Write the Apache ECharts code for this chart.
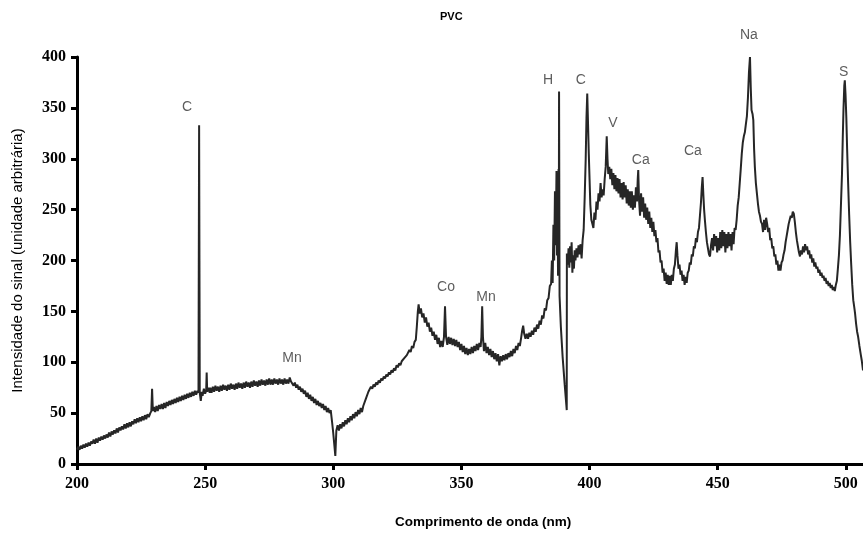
<!DOCTYPE html>
<html>
<head>
<meta charset="utf-8">
<script src="https://cdn.jsdelivr.net/npm/echarts@6/dist/echarts.min.js"></script>
<style>
html,body{margin:0;padding:0;background:#fff;}
#chart{width:863px;height:533px;}
</style>
</head>
<body>
<div id="chart"></div>
<script>
// Spectrum segments: [wavelength (nm), intensity (a.u.)]
var seg200to301 = [
[200,14],[200.5,17],[201,14],[201.5,18],[202,15],[202.5,19],[203,16],[203.5,20],[204,17],[204.5,21],[205,18],[205.5,22],[206,20],[206.5,24],[207,20],[207.5,25],[208,21],[208.5,26],[209,23],[209.5,27],[210,24],[210.5,28],[211,25],[211.5,29],[212,26],[212.5,31],[213,27],[213.5,32],[214,29],[214.5,33],[215,30],[215.5,35],[216,31],[216.5,36],[217,33],[217.5,37],[218,34],[218.5,39],[219,35],[219.5,40],[220,36],[220.5,41],[221,37],[221.5,42],[222,39],[222.5,44],[223,40],[223.5,45],[224,41],[224.5,46],[225,42],[225.5,47],[226,43],[226.5,48],[227,44],[227.5,49],[228,46],[228.6,50],[229,52],[229.3,74],[229.6,52],[230,56],[230.5,51],[231,57],[231.5,52],[232,58],[232.5,54],[233,59],[233.5,54],[234,60],[234.5,55],[235,61],[235.5,57],[236,62],[236.5,58],[237,63],[237.5,59],[238,64],[238.5,60],[239,65],[239.5,61],[240,66],[240.5,62],[241,67],[241.5,63],[242,68],[242.5,64],[243,69],[243.5,65],[244,70],[244.5,66],[245,71],[245.5,67],[246,72],[246.5,68],[247,72],[247.4,70],[247.65,333],[247.9,70],[248.3,62],[248.7,71],[249,67],[249.5,74],[250,69],[250.4,72],[250.6,90],[250.8,71],[251.3,75],[251.8,70],
[252,75],[252.5,70],[253,76],[253.5,71],[254,77],[254.5,72],[255,76],[255.5,71],[256,77],[256.5,72],[257,78],[257.5,73],[258,77],[258.5,72],[259,78],[259.5,73],[260,79],[260.5,74],[261,78],[261.5,73],[262,79],[262.5,74],[263,80],[263.5,75],[264,79],[264.5,74],[265,80],[265.5,75],[266,81],[266.5,76],[267,80],[267.5,75],[268,81],[268.5,76],[269,82],[269.5,77],[270,81],[270.5,76],[271,82],[271.5,77],[272,83],[272.5,78],[273,82],[273.5,77],[274,83],[274.5,78],[275,84],[275.5,78],[276,83],[276.5,78],[277,84],[277.5,79],[278,83],[278.5,78],[279,84],[279.5,79],[280,83],[280.5,78],[281,84],[281.5,79],[282,83],[282.5,79],[283,85],[283.5,81],
[284,80],[284.5,77],[285,80],[285.5,75],[286,78],[286.5,73],[287,76],[287.5,71],[288,74],[288.5,69],[289,72],[289.5,66],[290,70],[290.5,64],[291,68],[291.5,62],[292,66],[292.5,60],[293,64],[293.5,58],[294,62],[294.5,57],[295,60],[295.5,55],[296,59],[296.5,53],[297,57],[297.5,51],[298,55],[298.5,50],[299,53],[299.5,42],[300,30],[300.8,8]
];
var seg301to391 = [
[301.2,33],[301.7,38],[302.2,33],[302.7,39],[303.2,35],[303.7,41],[304.2,37],[304.7,43],[305.2,39],[305.7,45],[306.2,41],[306.7,47],[307.2,43],[307.7,49],[308.2,45],[308.7,51],[309.2,47],[309.7,53],[310.2,49],[310.7,55],[311.2,51],[311.7,57],[312.2,58],[312.7,64],[313.2,65],[313.7,71],[314.2,71],[314.7,76],[315.2,74],[315.7,78],[316.2,76],[316.7,80],[317.2,78],[317.7,82],[318.2,80],[318.7,84],[319.2,82],[319.7,86],[320.2,84],[320.7,88],[321.2,86],[321.7,90],[322.2,88],[322.7,92],[323.2,90],[323.7,94],[324.2,92],[324.7,97],[325.2,95],[325.7,99],[326.2,97],[326.7,101],[327.2,100],[327.7,104],[328.2,103],[328.7,107],[329.2,106],[329.7,112],[330.2,110],[330.7,116],[331.2,114],[331.7,120],[332.2,122],[332.6,135],[333.0,150],[333.3,157],[333.7,148],[334.2,153],[334.7,144],[335.2,148],[335.7,139],[336.2,144],[336.7,135],[337.2,139],[337.7,130],[338.2,134],[338.7,126],[339.2,130],[339.7,122],[340.2,127],[340.7,118],[341.2,124],[341.7,115],[342.2,121],[342.7,115],[343.2,125],[343.6,155],[344.0,125],[344.5,117],[345,125],[345.5,118],[346,124],[346.5,117],[347,123],[347.5,116],[348,122],[348.5,115],[349,120],[349.5,112],[350,118],[350.5,110],[351,116],[351.5,108],[352,114],[352.5,107],[353,113],[353.5,108],[354,115],[354.5,109],[355,116],[355.5,111],[356,118],[356.5,112],[357,119],[357.5,115],[357.8,125],[358.1,155],[358.4,125],[358.8,111],[359.3,119],[359.8,109],[360.3,115],[360.8,107],[361.3,113],[361.8,105],[362.3,111],[362.8,103],[363.3,109],[363.8,101],[364.3,108],[364.8,97],[365.3,106],[365.8,101],[366.3,107],[366.8,102],[367.3,108],[367.8,103],[368.3,109],[368.8,105],[369.3,111],[369.8,106],[370.3,113],[370.8,109],[371.3,116],[371.8,112],[372.3,119],[372.8,116],[373.3,124],[373.7,131],[374.1,136],[374.5,128],[375,123],[375.5,128],[376,123],[376.5,129],[377,125],[377.5,131],[378,127],[378.5,134],[379,130],[379.5,137],[380,133],[380.5,141],[381,137],[381.5,146],[382,143],[382.5,153],[383,151],[383.5,161],[384,163],[384.5,175],[385,177],[385.3,200],[385.6,178],[385.9,235],[386.2,200],[386.5,268],[386.8,215],[387.1,288],[387.3,205],[387.5,282],[387.7,185],[387.9,290],[388.0,200],[388.1,366],[388.3,165],[388.8,135],[389.5,105],[390.3,78],[391.1,53]
];
var seg391to447 = [
[391.15,207],[391.5,196],[391.8,212],[392.1,193],[392.4,214],[392.7,198],[393.0,218],[393.3,188],[393.6,205],[393.9,192],[394.2,210],[394.5,200],[394.9,212],[395.3,203],[395.7,215],[396.1,206],[396.5,216],[396.9,202],[397.3,220],[397.7,230],[398.1,262],[398.5,300],[398.8,340],[399.1,364],[399.4,335],[399.7,305],[400.0,280],[400.3,255],[400.7,240],[401.1,236],[401.5,232],[401.9,247],[402.3,240],[402.7,258],[403.1,250],[403.5,266],[403.9,258],[404.3,276],[404.7,262],[405.1,270],[405.5,264],[405.9,280],[406.3,292],[406.7,322],[407.0,300],[407.3,285],[407.7,292],[408.1,280],[408.5,290],[408.9,274],[409.3,286],[409.7,270],[410.1,284],[410.5,268],[410.9,281],[411.3,266],[411.7,280],[412.1,262],[412.5,276],[412.9,260],[413.3,277],[413.7,262],[414.1,274],[414.5,256],[414.9,270],[415.3,254],[415.7,268],[416.1,252],[416.5,268],[416.9,250],[417.3,264],[417.7,252],[418.1,272],[418.5,258],[418.8,280],[419.0,289],[419.3,260],[419.7,244],[420.1,266],[420.5,248],[420.9,262],[421.3,242],[421.7,256],[422.1,240],[422.5,252],[422.9,236],[423.3,248],[423.7,232],[424.1,242],[424.5,228],[424.9,238],[425.3,224],[425.7,230],[426.1,218],[426.5,222],[426.9,208],[427.3,210],[427.7,198],[428.1,200],[428.5,188],[428.9,192],[429.3,180],[429.7,188],[430.1,177],[430.5,186],[430.9,176],[431.3,185],[431.7,176],[432.1,186],[432.5,180],[432.9,192],[433.3,196],[433.7,210],[434.0,218],[434.3,205],[434.7,192],[435.1,196],[435.5,186],[435.9,190],[436.3,180],[436.7,186],[437.1,176],[437.5,184],[437.9,178],[438.3,188],[438.7,190],[439.1,198],[439.5,196],[439.9,206],[440.3,204],[440.7,214],[441.1,212],[441.5,222],[441.9,218],[442.3,228],[442.7,232],[443.1,245],[443.5,258],[443.8,272],[444.1,282],[444.4,265],[444.7,250],[445.0,240],[445.4,228],[445.8,218],[446.2,212],[446.6,206]
];
var seg447to507 = [
[447,204],[447.4,215],[447.8,222],[448.2,210],[448.6,226],[449,214],[449.4,224],[449.8,208],[450.2,222],[450.6,210],[451,228],[451.4,212],[451.8,230],[452.2,214],[452.6,228],[453,208],[453.4,226],[453.8,212],[454.2,228],[454.6,214],[455,226],[455.4,210],[455.8,228],[456.2,216],[456.6,232],[457,230],[457.4,240],[457.8,254],[458.2,262],[458.6,276],[459,290],[459.4,305],[459.8,316],[460.2,322],[460.6,326],[461,334],[461.4,342],[461.8,360],[462.2,385],[462.6,400],[462.9,370],[463.2,348],[463.6,344],[463.9,338],[464.2,310],[464.5,292],[464.9,276],[465.3,266],[465.7,256],[466.1,248],[466.5,244],[466.9,238],[467.3,236],[467.7,228],[468.1,240],[468.5,230],[468.9,242],[469.3,236],[469.7,228],[470.1,232],[470.5,220],[470.9,222],[471.3,212],[471.7,214],[472.1,204],[472.5,206],[472.9,196],[473.3,200],[473.7,190],[474.1,196],[474.5,190],[474.9,198],[475.3,200],[475.7,206],[476.1,210],[476.5,218],[476.9,224],[477.3,230],[477.7,236],[478.1,240],[478.5,244],[478.9,242],[479.3,248],[479.7,246],[480.1,238],[480.5,228],[480.9,220],[481.3,214],[481.7,208],[482.1,204],[482.5,210],[482.9,206],[483.3,214],[483.7,208],[484.1,216],[484.5,210],[484.9,214],[485.3,206],[485.7,210],[486.1,202],[486.5,206],[486.9,198],[487.3,202],[487.7,194],[488.1,198],[488.5,192],[488.9,194],[489.3,188],[489.7,191],[490.1,185],[490.5,188],[490.9,183],[491.3,185],[491.7,180],[492.1,183],[492.5,177],[492.9,180],[493.3,175],[493.7,178],[494.1,173],[494.5,176],[494.9,171],[495.3,174],[495.7,170],[496.1,176],[496.5,180],[496.9,192],[497.3,205],[497.7,225],[498.1,255],[498.5,285],[498.8,320],[499.1,350],[499.4,372],[499.6,377],[499.9,362],[500.2,340],[500.5,310],[500.9,276],[501.3,245],[501.7,218],[502.1,196],[502.5,176],[502.9,161],[503.3,154],[503.6,148],[504,138],[504.4,130],[504.8,125],[505.3,116],[505.8,108],[506.2,102],[506.7,92]
];
// Element labels: [wavelength, intensity, text]
var peakLabels = [
[242.9,351,'C'],[283.9,104,'Mn'],[344,174,'Co'],[359.6,164,'Mn'],[383.8,377,'H'],[396.6,377,'C'],
[409.1,335,'V'],[420,299,'Ca'],[440.3,307,'Ca'],[462.2,421,'Na'],[499.2,385,'S']
];
var xTicks = {min:200, max:506.7, step:50};
var yTicks = {min:0, max:400, step:50};

var spectrum = seg200to301.concat(seg301to391, seg391to447, seg447to507);

var chart = echarts.init(document.getElementById('chart'), null, {renderer:'canvas'});
var tickFont = {fontFamily:'Liberation Serif', fontWeight:'bold', fontSize:16, color:'#000'};
chart.setOption({
  animation:false,
  backgroundColor:'#fff',
  grid:{left:77, right:0, top:57, bottom:69, containLabel:false},
  xAxis:{
    type:'value', min:xTicks.min, max:xTicks.max, interval:xTicks.step,
    axisLine:{show:true, lineStyle:{color:'#000', width:3}},
    axisTick:{show:true, inside:false, length:6, lineStyle:{color:'#000', width:3}},
    axisLabel:Object.assign({margin:12, showMaxLabel:false}, tickFont),
    splitLine:{show:false}
  },
  yAxis:{
    type:'value', min:yTicks.min, max:yTicks.max, interval:yTicks.step,
    name:'Intensidade do sinal (unidade arbitrária)', nameLocation:'middle', nameGap:52,
    nameTextStyle:{fontFamily:'Liberation Sans', fontSize:15, color:'#000'},
    axisLine:{show:true, lineStyle:{color:'#000', width:3}},
    axisTick:{show:true, inside:false, length:6, lineStyle:{color:'#000', width:3}},
    axisLabel:Object.assign({margin:11}, tickFont),
    splitLine:{show:false}
  },
  graphic:[
    {type:'text', left:440, top:11, style:{text:'PVC', fontFamily:'Liberation Sans', fontWeight:'bold', fontSize:11, fill:'#000'}},
    {type:'text', left:395, top:515, style:{text:'Comprimento de onda (nm)', fontFamily:'Liberation Sans', fontWeight:'bold', fontSize:13.5, fill:'#000'}}
  ],
  series:[
    {type:'line', data:spectrum, showSymbol:false, symbol:'none', smooth:false,
     lineStyle:{color:'#262626', width:2}, clip:true, z:2},
    {type:'scatter', data:peakLabels.map(function(p){return [p[0],p[1],p[2]];}), symbolSize:0, clip:false,
     label:{show:true, position:'inside', formatter:function(p){return p.data[2];},
            fontFamily:'Liberation Sans', fontSize:14, color:'#333'}, z:3}
  ]
});
</script>
</body>
</html>
